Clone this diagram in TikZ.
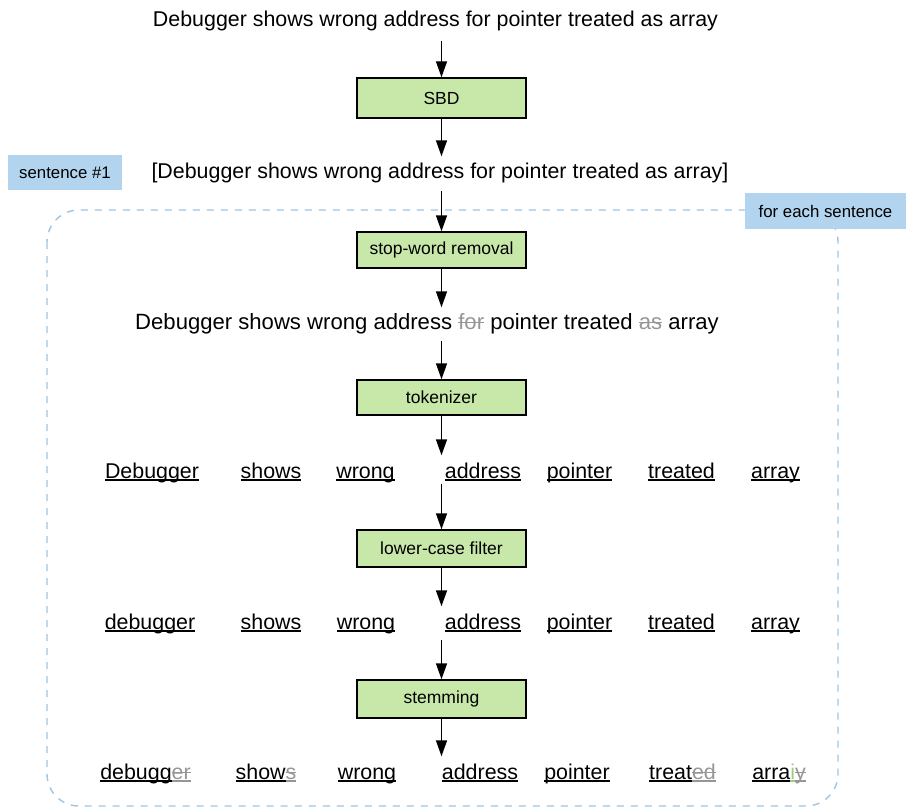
\documentclass[tikz,border=0pt]{standalone}
\usepackage{fontspec}
\setmainfont{Liberation Sans}
\usetikzlibrary{arrows.meta}
\definecolor{boxgreen}{RGB}{200,232,170}
\definecolor{boxblue}{RGB}{178,212,238}
\definecolor{dashblue}{RGB}{160,196,226}
\definecolor{strikegray}{RGB}{150,150,150}
\definecolor{addgreen}{RGB}{160,200,130}
\newsavebox{\gonebox}
\newsavebox{\ulbox}
% struck-out grey text
\newcommand{\gone}[1]{\textcolor{strikegray}{\sbox{\gonebox}{#1}\rlap{\rule[0.27em]{\wd\gonebox}{0.06em}}\usebox{\gonebox}}}
% underlined text (underline close to baseline)
\newcommand{\ul}[1]{\sbox{\ulbox}{#1}\rlap{\rule[-0.13em]{\wd\ulbox}{0.065em}}\usebox{\ulbox}}
% struck-out grey text, grey underline
\newcommand{\goneu}[1]{\textcolor{strikegray}{\sbox{\gonebox}{#1}\rlap{\rule[0.27em]{\wd\gonebox}{0.06em}}\rlap{\rule[-0.13em]{\wd\gonebox}{0.065em}}\usebox{\gonebox}}}
\tikzset{
  arr/.style={line width=1.4pt,-{Triangle[width=11pt,length=16pt]}},
  procbox/.style={draw=black,line width=1.4pt,fill=boxgreen,minimum width=169pt,font=\fontsize{17.5}{20}\selectfont,inner sep=0pt},
  tagbox/.style={fill=boxblue,font=\fontsize{16.8}{20}\selectfont,inner sep=0pt},
  line/.style={font=\fontsize{21.4}{25}\selectfont,inner sep=0pt},
  tok/.style={font=\fontsize{21.4}{25}\selectfont,inner sep=0pt},
}
\begin{document}
\begin{tikzpicture}[x=1pt,y=-1pt]
\useasboundingbox (0,0) rectangle (906,808);

% loop frame
\draw[dashblue,line width=1.4pt,dash pattern=on 7pt off 7pt,rounded corners=32pt] (47,210) rectangle (838,806);

% text lines
\node[line] (t0) at (435.5,22) {\strut Debugger shows wrong address for pointer treated as array};
\node[procbox,minimum height=40pt] (sbd) at (441.5,98) {SBD};
\node[line] (t1) at (440,174) {\strut [Debugger shows wrong address for pointer treated as array]};
\node[tagbox,minimum width=114pt,minimum height=35pt] (s1) at (65,172.5) {sentence \#1};
\node[tagbox,minimum width=161pt,minimum height=36pt] (fe) at (825.5,211) {for each sentence};
\node[procbox,minimum height=36pt] (swr) at (441.5,250) {stop-word removal};
\node[line,font=\fontsize{22.1}{25}\selectfont] (t2) at (427,324) {\strut Debugger shows wrong address \gone{for} pointer treated \gone{as} array};
\node[procbox,minimum height=35pt] (tkz) at (441.5,397.5) {tokenizer};

% row 1
\node[tok] (a1) at (152,473) {\strut\ul{Debugger}};
\node[tok] (b1) at (271,473) {\strut\ul{shows}};
\node[tok] (c1) at (365.5,473) {\strut\ul{wrong}};
\node[tok] (d1) at (483,473) {\strut\ul{address}};
\node[tok] (e1) at (579.5,473) {\strut\ul{pointer}};
\node[tok] (f1) at (681.5,473) {\strut\ul{treated}};
\node[tok] (g1) at (775.5,473) {\strut\ul{array}};

\node[procbox,minimum height=37pt] (lcf) at (441.5,548.5) {lower-case filter};

% row 2
\node[tok] (a2) at (150,624) {\strut\ul{debugger}};
\node[tok] (b2) at (271,624) {\strut\ul{shows}};
\node[tok] (c2) at (366,624) {\strut\ul{wrong}};
\node[tok] (d2) at (483,624) {\strut\ul{address}};
\node[tok] (e2) at (579.5,624) {\strut\ul{pointer}};
\node[tok] (f2) at (681.5,624) {\strut\ul{treated}};
\node[tok] (g2) at (775.5,624) {\strut\ul{array}};

\node[procbox,minimum height=38pt] (stm) at (441.5,699) {stemming};

% row 3
\node[tok] (a3) at (145.5,774) {\strut\ul{debugg}\goneu{er}};
\node[tok] (b3) at (266,774) {\strut\ul{show}\goneu{s}};
\node[tok] (c3) at (367,774) {\strut\ul{wrong}};
\node[tok] (d3) at (480,774) {\strut\ul{address}};
\node[tok] (e3) at (577,774) {\strut\ul{pointer}};
\node[tok] (f3) at (682.5,774) {\strut\ul{treat}\goneu{ed}};
\node[tok] (g3) at (779,774) {\strut\ul{arra}\textcolor{addgreen}{\ul{i}}\goneu{y}};

% connectors
\draw[arr] ([yshift=-6pt]sbd.north |- t0.south) -- (sbd.north);
\draw[arr] (sbd.south) -- ([yshift=5pt]sbd.south |- t1.north);
\draw[arr] ([yshift=-4pt]swr.north |- t1.south) -- (swr.north);
\draw[arr] (swr.south) -- ([yshift=4pt]swr.south |- t2.north);
\draw[arr] ([yshift=-4pt]tkz.north |- t2.south) -- (tkz.north);
\draw[arr] (tkz.south) -- ([yshift=5pt]tkz.south |- d1.north);
\draw[arr] ([yshift=2pt]lcf.north |- d1.south) -- (lcf.north);
\draw[arr] (lcf.south) -- ([yshift=5pt]lcf.south |- d2.north);
\draw[arr] ([yshift=-3pt]stm.north |- d2.south) -- (stm.north);
\draw[arr] (stm.south) -- ([yshift=5pt]stm.south |- d3.north);
\end{tikzpicture}
\end{document}
